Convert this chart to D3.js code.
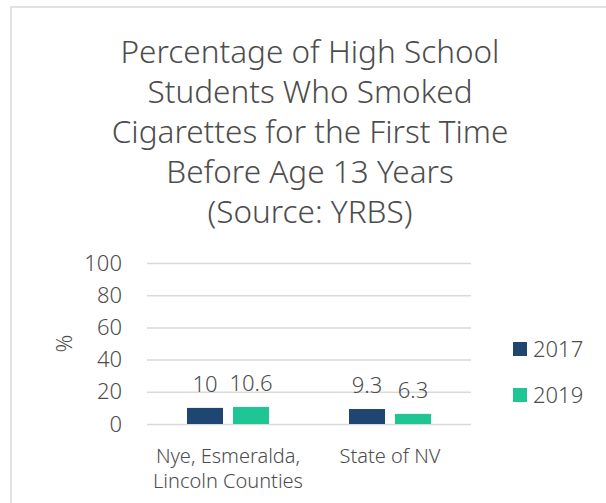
<!DOCTYPE html>
<html>
<head>
<meta charset="utf-8">
<script src="https://cdn.jsdelivr.net/npm/d3@7"></script>
<style>
  body { margin: 0; background: #fff; }
  svg text { font-family: "Noto Sans", "Open Sans", sans-serif; fill: #4d4d4d; font-weight: 300; }
</style>
</head>
<body>
<svg id="chart"></svg>
<script>
// data
var categories = [["Nye, Esmeralda,", "Lincoln Counties"], ["State of NV"]]
var categoryKeys = ["Nye", "NV"]
var years = ["2017", "2019"]
var values2017 = [10, 9.3]
var values2019 = [10.6, 6.3]
var yTicks = [0, 20, 40, 60, 80, 100]
var titleLines = ["Percentage of High School", "Students Who Smoked",
  "Cigarettes for the First Time", "Before Age 13 Years", "(Source: YRBS)"]

var colors = { "2017": "#1F4670", "2019": "#1FC593" }

var dimensions = {
  width: 606,
  height: 503,
  margin: { top: 263, bottom: 79, left: 147, right: 135 }
}
dimensions.boundedWidth = dimensions.width - dimensions.margin.left - dimensions.margin.right
dimensions.boundedHeight = dimensions.height - dimensions.margin.top - dimensions.margin.bottom

var dataset = categoryKeys.map((k, i) => ({ key: k, label: categories[i], "2017": values2017[i], "2019": values2019[i] }))

var svg = d3.select("#chart")
  .attr("width", dimensions.width)
  .attr("height", dimensions.height)

// chart frame
svg.append("rect")
  .attr("x", 11).attr("y", 7)
  .attr("width", 620).attr("height", 520)
  .attr("fill", "none")
  .attr("stroke", "#d9d9d9")
  .attr("stroke-width", 1.5)

// title
svg.append("text")
  .attr("text-anchor", "middle")
  .style("font-size", "31.5px")
  .selectAll("tspan")
  .data(titleLines)
  .enter()
  .append("tspan")
  .attr("x", 310)
  .attr("y", (d, i) => 63 + i * 40)
  .text(d => d)

var xScale = d3.scaleBand()
  .domain(categoryKeys)
  .range([0, dimensions.boundedWidth])

var xInner = d3.scaleBand()
  .domain(years)
  .range([0, xScale.bandwidth()])
  .paddingInner(0.217)
  .paddingOuter(0.87)

var yScale = d3.scaleLinear()
  .domain([0, 100])
  .range([dimensions.boundedHeight, 0])

var bounds = svg.append("g")
  .attr("transform", `translate(${dimensions.margin.left},${dimensions.margin.top})`)

// gridlines
var yAxis = d3.axisLeft(yScale)
  .tickValues(yTicks)
  .tickSize(-dimensions.boundedWidth)
  .tickPadding(25)

var yAxisG = bounds.append("g").call(yAxis)
yAxisG.select(".domain").remove()
yAxisG.selectAll("line").attr("stroke", "#d9d9d9").attr("stroke-width", 1.5)
yAxisG.selectAll("text")
  .style("font-size", "22px")
  .attr("fill", "#4d4d4d")

// axis title
svg.append("text")
  .attr("transform", `translate(72,${dimensions.margin.top + dimensions.boundedHeight / 2}) rotate(-90)`)
  .attr("text-anchor", "middle")
  .style("font-size", "22px")
  .text("%")

// bars
var groups = bounds.selectAll(".cat")
  .data(dataset)
  .enter()
  .append("g")
  .attr("class", "cat")
  .attr("transform", d => `translate(${xScale(d.key)},0)`)

groups.selectAll("rect")
  .data(d => years.map(y => ({ year: y, value: d[y] })))
  .enter()
  .append("rect")
  .attr("x", d => xInner(d.year))
  .attr("width", xInner.bandwidth())
  .attr("y", d => yScale(d.value))
  .attr("height", d => yScale(0) - yScale(d.value))
  .attr("fill", d => colors[d.year])

groups.selectAll(".lbl")
  .data(d => years.map(y => ({ year: y, value: d[y] })))
  .enter()
  .append("text")
  .attr("class", "lbl")
  .attr("x", d => xInner(d.year) + xInner.bandwidth() / 2)
  .attr("y", d => yScale(d.value) - 16)
  .attr("text-anchor", "middle")
  .style("font-size", "22px")
  .text(d => d.value)

// category labels
groups.append("text")
  .attr("text-anchor", "middle")
  .style("font-size", "20px")
  .selectAll("tspan")
  .data(d => d.label)
  .enter()
  .append("tspan")
  .attr("x", xScale.bandwidth() / 2)
  .attr("y", (d, i) => dimensions.boundedHeight + 39 + i * 25)
  .text(d => d)

// legend
var legend = svg.selectAll(".legend")
  .data(years)
  .enter()
  .append("g")
  .attr("class", "legend")
  .attr("transform", (d, i) => `translate(513,${342 + i * 46})`)

legend.append("rect")
  .attr("width", 14).attr("height", 14)
  .attr("fill", d => colors[d])

legend.append("text")
  .attr("x", 20)
  .attr("y", 7)
  .attr("dy", "0.35em")
  .style("font-size", "22px")
  .text(d => d)
</script>
</body>
</html>
